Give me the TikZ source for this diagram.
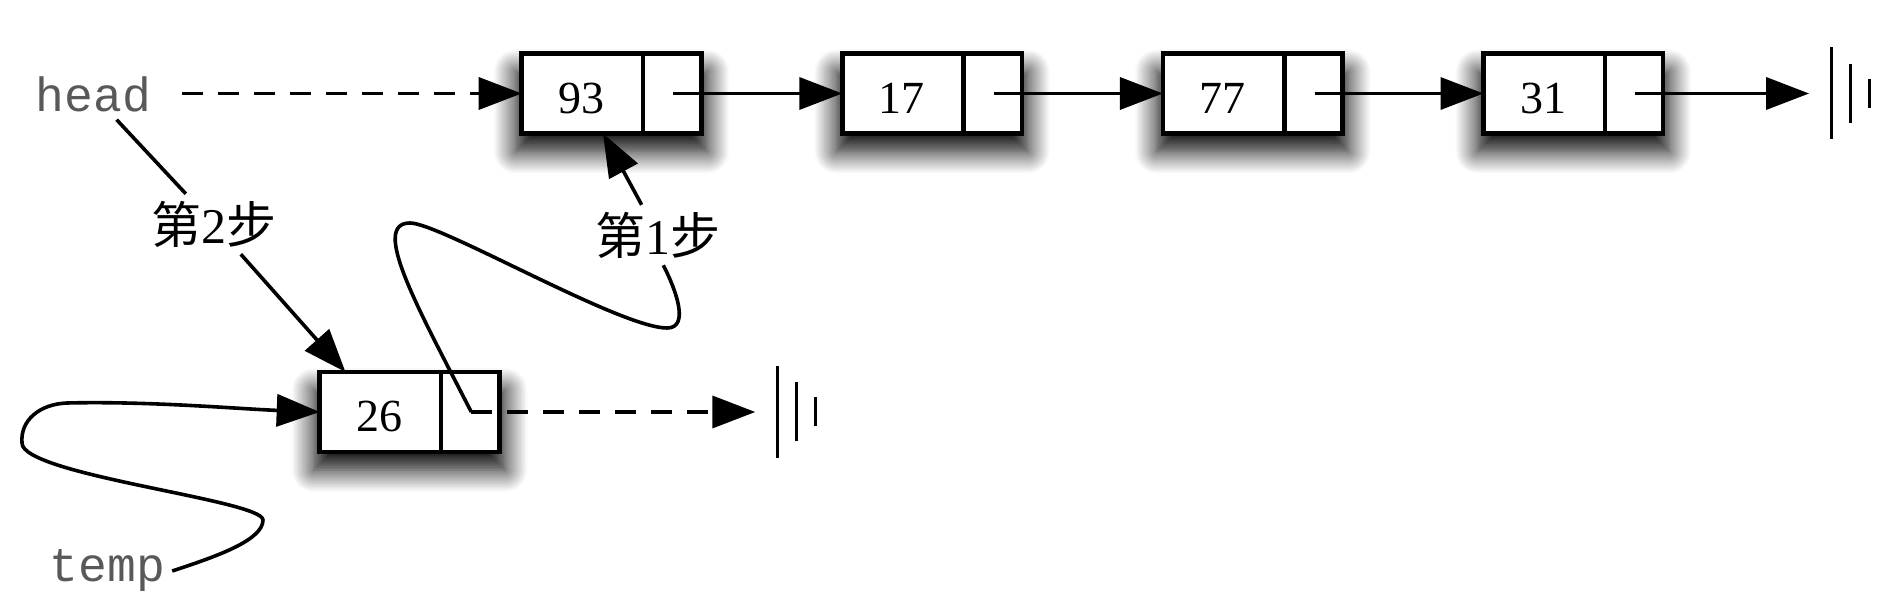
\documentclass[tikz,border=0pt]{standalone}
\usepackage{fontspec}
\setmainfont{Liberation Serif}
\setmonofont{Liberation Mono}
\newfontfamily\cjk{Noto Sans CJK SC}
\usetikzlibrary{backgrounds}
\usetikzlibrary{arrows.meta}
\usetikzlibrary{calc,shadows.blur,positioning}
\usetikzlibrary{shapes.multipart}

\newcommand{\listcell}[1]{\makebox[59.5pt]{\rule[-10pt]{0pt}{40pt}#1}\nodepart{two}\makebox[28pt]{\rule[-10pt]{0pt}{40pt}}}

\begin{document}
\begin{tikzpicture}[x=0.5pt, y=-0.5pt,
			listnode/.style={draw=black, line width=2.3pt, fill=white, inner sep=0pt, outer sep=0pt,
					rectangle split, rectangle split horizontal, rectangle split parts=2,
					font=\fontsize{23pt}{27pt}\selectfont},
			boxshadow/.style={blur shadow={shadow xshift=0pt, shadow yshift=-9pt, shadow blur radius=11pt,
					shadow blur steps=14, shadow opacity=100}},
			varname/.style={font=\ttfamily\fontsize{24pt}{28pt}\selectfont, text=black!65, anchor=base},
			steplabel/.style={font=\fontsize{25pt}{29pt}\selectfont},
			link/.style={line width=1.8pt, -{Triangle[length=21.5pt, width=16pt]}},
			dashlink/.style={link, dash pattern=on 10.5pt off 7.5pt},
			nil/.style={line width=1.5pt},
			node distance=70.5pt]
		\useasboundingbox (0,0) rectangle (1887,598);

		\node (item93) [listnode] at (611.5,93.5) {\listcell{93}};
		\node (item17) [listnode, right=of item93] {\listcell{17}};
		\node (item77) [listnode, right=of item17] {\listcell{77}};
		\node (item31) [listnode, right=of item77] {\listcell{31}};
		\node (item26) [listnode] at (409.5,412) {\listcell{26}};

		\begin{scope}[on background layer]
			\foreach \n in {93,17,77,31,26}
				\path [boxshadow] ([xshift=-3pt]item\n.south west) rectangle ([xshift=3pt]item\n.north east);
		\end{scope}

		\foreach \n in {93,17,77,31,26}
			\coordinate (next\n) at ([xshift=-14pt]item\n.east);
		\coordinate (nil1) at ([xshift=73pt]item31.east);
		\coordinate (nil2) at ([xshift=128pt]item26.east);
		\foreach \c in {nil1,nil2}
			\foreach \d/\h in {11/23,20.5/14.75,30/7.25}
				\draw [nil] ([xshift=\d pt, yshift=-\h pt]\c) -- ([xshift=\d pt, yshift=\h pt]\c);

		\node (head) [varname] at (93.5,112) {head};
		\node (temp) [varname] at (107.5,582) {temp};
		\node (step2) [steplabel] at (214,224) {{\cjk 第}2{\cjk 步}};
		\node (step1) [steplabel] at (658,235) {{\cjk 第}1{\cjk 步}};

		\draw [dashlink, shorten <=12pt] (head.east |- item93) -- (item93);
		\draw [link] (next93) -- (item17);
		\draw [link] (next17) -- (item77);
		\draw [link] (next77) -- (item31);
		\draw [link] (next31) -- (nil1);
		\draw [dashlink] (next26) -- (nil2);

		\draw [line width=1.8pt] (head) -- (step2);
		\draw [link] (step2) -- (item26.148);
		\draw [link] (step1) -- (item93.-102);
		\draw [line width=1.8pt] (next26) .. controls (418,308) and (370,223) .. (410,223)
			.. controls (440,223) and (620,328) .. (667,328)
			.. controls (690,328) and (676,290) .. (step1.-80);
		\draw [link] (temp.east) .. controls (218,556) and (263,540) .. (263,520)
			.. controls (263,500) and (22,475) .. (22,443)
			.. controls (20,420) and (40,404) .. (67,403)
			.. controls (150,401) and (240,409) .. (item26.west);
	\end{tikzpicture}
\end{document}
